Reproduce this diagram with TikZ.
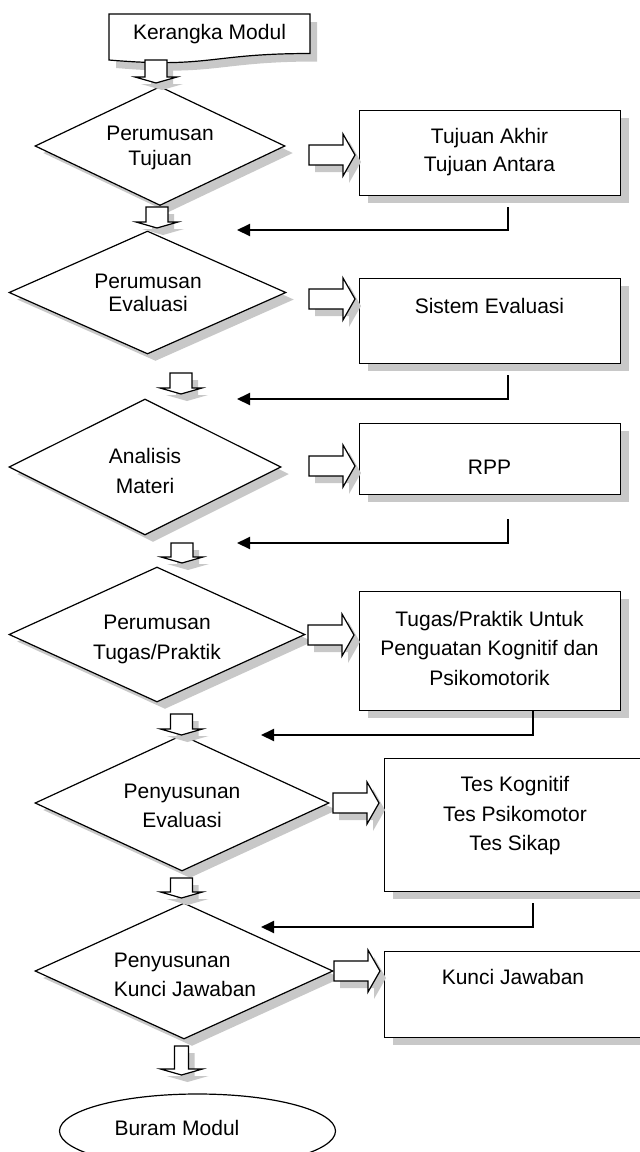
\documentclass[tikz,border=0pt]{standalone}
\usepackage{fontspec}
\setmainfont{Liberation Sans}
\usetikzlibrary{shapes.geometric,shadows,arrows.meta}
\definecolor{shadowgray}{RGB}{200,200,200}
\begin{document}
\begin{tikzpicture}[x=1pt,y=-1pt,
  line width=1.2pt,
  font=\fontsize{21}{29}\selectfont,
  hardshadow/.style={drop shadow={shadow xshift=8pt,shadow yshift=-7pt,fill=shadowgray,opacity=1}},
  decision/.style={diamond,draw,fill=white,inner sep=0pt,hardshadow},
  outbox/.style={rectangle,draw,fill=white,inner sep=0pt,anchor=north west,minimum width=261,hardshadow},
  txt/.style={align=center,inner sep=0pt},
  feedback/.style={line width=2pt,-{Triangle[length=13pt,width=12pt]}},
  % hollow block arrow pointing down: #1 shaft length, #2 half shaft width
  pics/downarr/.style 2 args={code={
    \fill[shadowgray,shift={(6,7)}] (-#2,0) -- (#2,0) -- (#2,#1) -- (21,#1) -- (0,{#1+6}) -- (-21,#1) -- (-#2,#1) -- cycle;
    \draw[fill=white] (-#2,0) -- (#2,0) -- (#2,#1) -- (21,#1) -- (0,{#1+6}) -- (-21,#1) -- (-#2,#1) -- cycle;
  }},
  % hollow block arrow pointing right, origin at the middle of its tail
  pics/rightarr/.style={code={
    \fill[shadowgray,shift={(6,7)}] (0,-10) -- (34,-10) -- (34,-21) -- (46,0) -- (34,21) -- (34,10) -- (0,10) -- cycle;
    \draw[fill=white] (0,-10) -- (34,-10) -- (34,-21) -- (46,0) -- (34,21) -- (34,10) -- (0,10) -- cycle;
  }}
]
\useasboundingbox (0,0) rectangle (640,1152);
\clip (0,0) rectangle (640,1152);

% start: document symbol
\fill[shadowgray,shift={(7,8)}] (109,14) -- (310,14) -- (310,53.5) .. controls (209.5,53.5) and (209.5,68.6) .. (109,60) -- cycle;
\draw[fill=white] (109,14) -- (310,14) -- (310,53.5) .. controls (209.5,53.5) and (209.5,68.6) .. (109,60) -- cycle;
\node[txt] (km) at (209.5,34) {Kerangka Modul};

% decisions
\node[decision,minimum width=250,minimum height=119] (d1) at (160,146) {};
\node[decision,minimum width=277,minimum height=123] (d2) at (147.5,292.5) {};
\node[decision,minimum width=272,minimum height=136] (d3) at (145,467) {};
\node[decision,minimum width=296,minimum height=135] (d4) at (157,634.5) {};
\node[decision,minimum width=294,minimum height=136] (d5) at (182,803) {};
\node[decision,minimum width=298,minimum height=136] (d6) at (184,971) {};

\node[txt,font=\fontsize{21}{25}\selectfont] (d1t) at (160,148) {Perumusan\\Tujuan};
\node[txt,font=\fontsize{21}{23}\selectfont] (d2t) at (148,293) {Perumusan\\Evaluasi};
\node[txt,font=\fontsize{21}{30}\selectfont] (d3t) at (145,471) {Analisis\\Materi};
\node[txt,font=\fontsize{21}{30}\selectfont] (d4t) at (157,639) {Perumusan\\Tugas/Praktik};
\node[txt] (d5t) at (182,806) {Penyusunan\\Evaluasi};
\node[txt,align=left] (d6t) at (185,975) {Penyusunan\\Kunci Jawaban};

% results
\node[outbox,minimum height=85] (b1) at (359,110) {};
\node[outbox,minimum height=85] (b2) at (359,278) {};
\node[outbox,minimum height=71] (b3) at (359,423) {};
\node[outbox,minimum height=119] (b4) at (359,591) {};
\node[outbox,minimum height=133] (b5) at (384,758) {};
\node[outbox,minimum height=86] (b6) at (384,951) {};

\node[txt,font=\fontsize{21}{28}\selectfont] (b1t) at (489.5,152) {Tujuan Akhir\\Tujuan Antara};
\node[txt] (b2t) at (489.5,306) {Sistem Evaluasi};
\node[txt] (b3t) at (489.5,467) {RPP};
\node[txt,font=\fontsize{21}{29.5}\selectfont] (b4t) at (489.5,648) {Tugas/Praktik Untuk\\Penguatan Kognitif dan\\Psikomotorik};
\node[txt,font=\fontsize{21}{29.5}\selectfont] (b5t) at (515,816) {Tes Kognitif\\Tes Psikomotor\\Tes Sikap};
\node[txt] (b6t) at (513,977) {Kunci Jawaban};

% end: terminator
\node[ellipse,draw,minimum width=276,minimum height=74,inner sep=0pt] (bm) at (197.5,1131) {};
\node[txt] (bmt) at (177,1128) {Buram Modul};

% block arrows down the main line
\pic (a0) at (156,60) {downarr={17}{11}};
\pic (a1) at (157,207) {downarr={15}{11}};
\pic (a2) at (181,373) {downarr={15}{11}};
\pic (a3) at (182,543) {downarr={14}{11}};
\pic (a4) at (181.5,714) {downarr={15}{11}};
\pic (a5) at (181.5,878) {downarr={14}{11}};
\pic (a6) at (181.5,1046) {downarr={23}{7}};

% block arrows from decisions to results
\pic (r1) at (309,155) {rightarr};
\pic (r2) at (309,299) {rightarr};
\pic (r3) at (309,466) {rightarr};
\pic (r4) at (308,635) {rightarr};
\pic (r5) at (333,803) {rightarr};
\pic (r6) at (334,971) {rightarr};

% feedback lines from results back to the main line
\coordinate (f1a) at (508,207); \coordinate (f1b) at (237,230);
\coordinate (f2a) at (508,375); \coordinate (f2b) at (237,399);
\coordinate (f3a) at (508,519); \coordinate (f3b) at (237,543);
\coordinate (f4a) at (533,710); \coordinate (f4b) at (261,735);
\coordinate (f5a) at (533,903); \coordinate (f5b) at (261,927);
\draw[feedback] (f1a) |- (f1b);
\draw[feedback] (f2a) |- (f2b);
\draw[feedback] (f3a) |- (f3b);
\draw[feedback] (f4a) |- (f4b);
\draw[feedback] (f5a) |- (f5b);
\end{tikzpicture}
\end{document}
